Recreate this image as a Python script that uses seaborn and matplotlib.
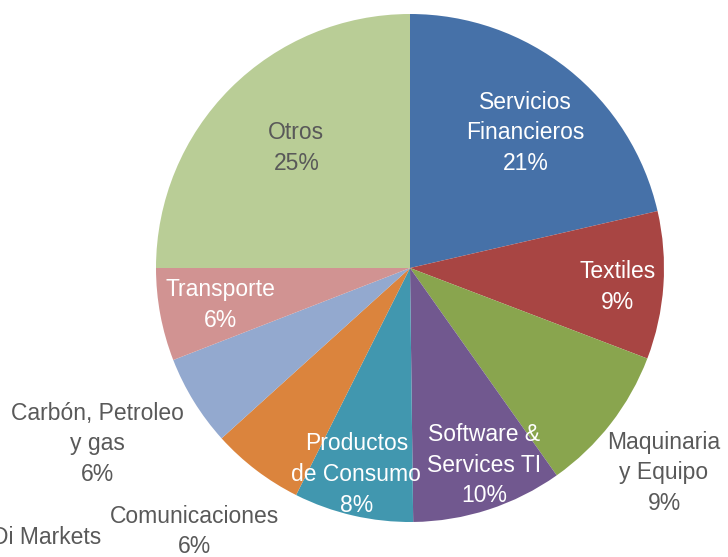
import numpy as np
import matplotlib
matplotlib.use("Agg")
import matplotlib.pyplot as plt
import seaborn as sns

# ---- data ----
categories = ["Servicios\nFinancieros", "Textiles", "Maquinaria\ny Equipo",
              "Software &\nServices TI", "Productos\nde Consumo", "Comunicaciones",
              "Carbón, Petroleo\ny gas", "Transporte", "Otros"]
values = [21.4, 9.4, 9.4, 9.6, 7.6, 5.9, 5.8, 5.9, 25.0]
colors = ["#4671A8", "#A84543", "#89A54E", "#71588F", "#4197AF",
          "#DB843D", "#93A9CF", "#D19392", "#B9CD96"]
label_colors = ["white", "white", "#595959", "white", "white",
                "#595959", "#595959", "white", "#595959"]
# layout: radial distance and angle nudge (deg) for each label
label_r = [0.70, 0.82, 1.285, 0.83, 0.84, 1.34, 1.41, 0.76, 0.65]
label_dang = [-2.0, -1.2, -1.1, 2.7, -1.6, -2.0, -2.3, 0.4, -1.5]

sns.set_theme(style="white")
plt.rcParams["font.family"] = ["Liberation Sans", "DejaVu Sans"]

W, H = 728, 557
fig = plt.figure(figsize=(W / 100, H / 100), dpi=100)
cx, cy, R = 410, 268, 254
ax = fig.add_axes([(cx - R) / W, 1 - (cy + R) / H, 2 * R / W, 2 * R / H])

wedges, _ = ax.pie(values, colors=colors, startangle=90, counterclock=False,
                   radius=1.0, wedgeprops=dict(linewidth=0, edgecolor="none"))
ax.set_xlim(-1, 1)
ax.set_ylim(-1, 1)
ax.set_aspect("equal")
ax.axis("off")

fs = 16.5
for w, cat, v, col, r, da in zip(wedges, categories, values, label_colors, label_r, label_dang):
    mid = np.deg2rad((w.theta1 + w.theta2) / 2 + da)
    ax.text(r * np.cos(mid), r * np.sin(mid), f"{cat}\n{v:.0f}%", ha="center", va="center",
            color=col, fontsize=fs, linespacing=1.42, clip_on=False)

fig.text(101 / W, 1 - 537 / H, "Di Markets", ha="right", va="center",
         color="#595959", fontsize=fs)

fig.savefig("out.png", dpi=100, facecolor="white")
